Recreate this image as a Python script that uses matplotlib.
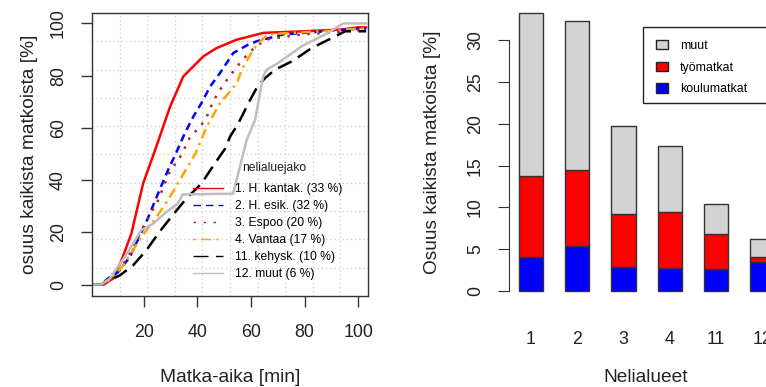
from matplotlib import pyplot as plt
from matplotlib.lines import Line2D
from matplotlib.patches import Patch, Rectangle
import numpy as np

plt.rcParams['font.family'] = ['Liberation Sans', 'DejaVu Sans']

#%% travel time curves (cumulative share of trips, %)
t_kantak = [1, 5, 8.4, 11.6, 15.3, 19.7, 24, 29.8, 34.7, 42.2, 47, 54.7, 64.7, 80, 94, 100, 103]
p_kantak = [0, 0, 2.3, 9.2, 19.5, 38.7, 51, 68.2, 79.7, 87.4, 90.5, 93.8, 96.4, 97, 97.7, 98.5, 98.5]

t_esik = [1, 4, 6.6, 10.3, 14.7, 20.9, 25.3, 29, 32.1, 35.3, 38.5, 41.5, 44.7, 48.4, 53.4, 59, 62.2, 72.1, 87.7, 100, 103]
p_esik = [0, 0, 2.3, 4.7, 10.5, 24, 34.9, 43.8, 50.6, 58, 64.4, 69.5, 75.8, 81, 88.7, 91.9, 93.2, 95.8, 97, 98, 98]

t_espoo = [1, 4, 8.4, 14.1, 19.7, 25.3, 29.6, 34, 37.3, 41.1, 43.5, 45.9, 48.4, 51.5, 55.9, 59.7, 65.3, 79, 90, 100, 103]
p_espoo = [0, 0, 2.2, 10.5, 22, 32.3, 43.2, 49.6, 56.7, 60.5, 64.4, 70.2, 74.6, 79.1, 84.9, 89.3, 93.8, 95.8, 96.5, 97.5, 97.5]

t_vantaa = [1, 4, 7.8, 12.8, 19, 23.4, 29, 33.4, 39.3, 43.5, 48.4, 52.2, 54.7, 56.6, 59.7, 62.2, 66.4, 75.3, 90, 100, 103]
p_vantaa = [0, 0, 2.2, 8, 18.2, 24, 32.3, 40, 50.3, 60.5, 69.5, 74, 77.2, 82.3, 88, 91.9, 95.8, 96.4, 97.2, 98, 98]

t_kehysk = [1, 4, 5.3, 11, 15.9, 20.9, 25.3, 30.2, 35.9, 41.5, 46.5, 50.3, 52.2, 55.3, 59.7, 62.5, 65.3, 69, 75.3, 82.7, 89, 95.2, 100, 103]
p_kehysk = [0, 0, 0.9, 3.5, 7.3, 13.1, 19.5, 25.9, 33, 38.7, 46.4, 52, 56.7, 61.8, 70.8, 76, 79.1, 82.3, 85.5, 90.6, 93.8, 97, 97, 97]

t_muut = [1, 4, 7.2, 12.8, 19, 23.4, 28.4, 32.7, 34.5, 53.3, 58.4, 61.5, 64.6, 65.9, 70.2, 79, 87.7, 94.5, 103]
p_muut = [0, 0, 2.2, 10.5, 20.8, 23.3, 27.8, 31, 34.5, 34.8, 55.4, 63, 80, 82.3, 84.9, 91.3, 95.8, 100, 100]

labels = ["1. H. kantak. (33 %)", "2. H. esik. (32 %)", "3. Espoo (20 %)",
          "4. Vantaa (17 %)", "11. kehysk. (10 %)", "12. muut (6 %)"]

#%% share of trips by area and purpose (%)
areas = ["1", "2", "3", "4", "11", "12"]
koulu = [4.1, 5.4, 2.9, 2.8, 2.6, 3.5]
tyo = [9.7, 9.1, 6.3, 6.7, 4.2, 0.5]
muut = [19.45, 17.8, 10.5, 7.8, 3.6, 2.2]

#%% styles (dash patterns in units of line width)
colors = ["red", "blue", "brown", "orange", "black", "#BEBEBE"]
dashes = [None, (3, 2), (1, 3), (1, 2, 4, 2), (6, 3), None]
curves = [(t_kantak, p_kantak), (t_esik, p_esik), (t_espoo, p_espoo),
          (t_vantaa, p_vantaa), (t_kehysk, p_kehysk), (t_muut, p_muut)]


def linestyle(d, scale=1.0):
    if d is None:
        return "-"
    return (0, tuple(v * scale for v in d))


W, H = 766, 387
fig = plt.figure(figsize=(7.66, 3.87), dpi=100)

#%% left plot
ax = fig.add_axes([92 / W, 1 - 296 / H, 276 / W, 283 / H])
xlim = (0.6, 103.7)
ylim = (-4.4, 104.0)
ax.set_xlim(xlim)
ax.set_ylim(ylim)

# R style grid: 10 x 10 equal cells
for gx in np.linspace(xlim[0], xlim[1], 11)[1:-1]:
    ax.axvline(gx, color="lightgray", ls=(0, (1, 2)), lw=1, zorder=0)
for gy in np.linspace(ylim[0], ylim[1], 11)[1:-1]:
    ax.axhline(gy, color="lightgray", ls=(0, (1, 2)), lw=1, zorder=0)

for (t, p), c, d in zip(curves, colors, dashes):
    ax.plot(t, p, color=c, ls=linestyle(d), lw=1.8)

# legend lines are thin, keep the dash length of the curves
handles = [Line2D([], [], color=c, ls=linestyle(d, 1.8), lw=1) for c, d in zip(colors, dashes)]
leg = ax.legend(handles, labels, frameon=False,
                loc="upper left", bbox_to_anchor=((193 - 92) / 276, (296 - 183) / 283),
                fontsize=8.7, handlelength=2.5,
                handletextpad=0.95, labelspacing=0.42, borderpad=0, borderaxespad=0)
ax.text((242 - 92) / 276, (296 - 168) / 283, "nelialuejako", transform=ax.transAxes,
        fontsize=8.7, ha="left", va="center", color="#222222")

ax.set_xticks([20, 40, 60, 80, 100])
ax.set_yticks([0, 20, 40, 60, 80, 100])
ax.tick_params(axis="both", direction="out", length=8, width=1, color="#333333",
               labelsize=12.8, labelcolor="#222222")
ax.tick_params(axis="x", pad=12)
ax.tick_params(axis="y", pad=10)
for lab in ax.get_yticklabels():
    lab.set_rotation(90)
    lab.set_va("center")
for s in ax.spines.values():
    s.set_color("#333333")
    s.set_linewidth(1)

ax.set_xlabel("Matka-aika [min]", fontsize=13.8, color="#222222")
ax.xaxis.set_label_coords(0.5, (296 - 377) / 283)
ax.xaxis.label.set_va("center")
ax.set_ylabel("osuus kaikista matkoista [%]", fontsize=13.8, color="#222222")
ax.yaxis.set_label_coords((30 - 92) / 276, 0.5)
ax.yaxis.label.set_va("center")

#%% right plot
bx = fig.add_axes([509 / W, 1 - 302 / H, (783 - 509) / W, 300 / H])
x = np.arange(len(areas))
w = 0.52
bx.bar(x, koulu, w, color="blue", edgecolor="#333333", lw=1)
bx.bar(x, tyo, w, bottom=koulu, color="red", edgecolor="#333333", lw=1)
bx.bar(x, muut, w, bottom=np.array(koulu) + np.array(tyo), color="lightgray",
       edgecolor="#333333", lw=1)
bx.set_xlim(-0.476, 5.45)
bx.set_ylim(-1.33, 34.6)

for s in ["top", "right", "bottom"]:
    bx.spines[s].set_visible(False)
bx.spines["left"].set_bounds(0, 30)
bx.spines["left"].set_color("#333333")
bx.set_yticks([0, 5, 10, 15, 20, 25, 30])
bx.set_xticks(x)
bx.set_xticklabels(areas)
bx.tick_params(axis="y", direction="out", length=8, color="#333333", labelsize=12.8,
               labelcolor="#222222", pad=10)
bx.tick_params(axis="x", length=0, labelsize=12.8, labelcolor="#222222", pad=21)
for lab in bx.get_yticklabels():
    lab.set_rotation(90)
    lab.set_va("center")

bx.set_xlabel("Nelialueet", fontsize=13.8, color="#222222")
bx.xaxis.set_label_coords(0.5, (302 - 377) / 300)
bx.xaxis.label.set_va("center")
bx.set_ylabel("Osuus kaikista matkoista [%]", fontsize=13.8, color="#222222")
bx.yaxis.set_label_coords((432 - 509) / 274, 0.5)
bx.yaxis.label.set_va("center")

# legend box (runs off the right edge like the original)
fig.patches.append(Rectangle((643 / W, 1 - 103 / H), 160 / W, 76 / H,
                             transform=fig.transFigure, fill=False,
                             edgecolor="#222222", lw=1))
bh = [Patch(facecolor="lightgray", edgecolor="#222222"),
      Patch(facecolor="red", edgecolor="#222222"),
      Patch(facecolor="blue", edgecolor="#222222")]
fig.legend(bh, ["muut", "työmatkat", "koulumatkat"], frameon=False,
           loc="upper left", bbox_to_anchor=(656 / W, 1 - 40 / H),
           fontsize=8.9, handlelength=0.95, handleheight=0.8,
           handletextpad=1.0, labelspacing=0.78, borderpad=0, borderaxespad=0)

plt.savefig("out.png", dpi=100)
